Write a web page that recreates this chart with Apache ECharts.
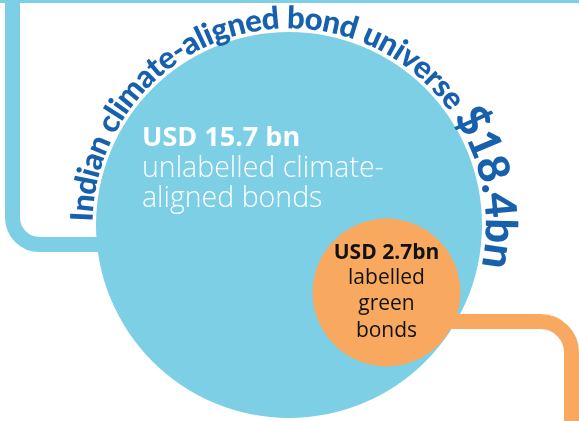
<!DOCTYPE html>
<html>
<head>
<meta charset="utf-8">
<script src="https://cdn.jsdelivr.net/npm/echarts@6/dist/echarts.min.js"></script>
<style>
  html, body { margin: 0; padding: 0; background: #fff; }
  #bubble { width: 579px; height: 421px; }
</style>
</head>
<body>
<div id="bubble"></div>
<script>
// 数据
const categories = ['unlabelled climate-aligned bonds', 'labelled green bonds']
const valuesBn = [15.7, 2.7]
const totalBn = valuesBn[0] + valuesBn[1]
const arcTitle = 'Indian climate-aligned bond universe'

// 颜色
const BLUE = '#7ccfe4'
const ORANGE = '#f8a95f'
const NAVY = '#1660ad'
const FONT = '"Open Sans", "DejaVu Sans", sans-serif'
const ARC_FONT = 'Lato, "Open Sans", sans-serif'

// 版式
const BIG = { cx: 289, cy: 225 }
const SMALL = { cx: 386.5, cy: 292.5 }
const R_TOTAL = 193
function radiusOf (v) {
  return R_TOTAL * Math.sqrt(v / totalBn)
}

// 沿圆弧排布文字（逐字旋转）
const TRACK = 0.96
const measureCtx = document.createElement('canvas').getContext('2d')
function strWidth (s, size) {
  measureCtx.font = '900 ' + size + 'px ' + ARC_FONT
  return measureCtx.measureText(s).width
}
function arcChars (text, size, startDeg, rBase, out) {
  let theta = startDeg * Math.PI / 180
  for (const ch of text) {
    const w = strWidth(ch, size) * TRACK
    const mid = theta - (w / 2) / rBase
    const rc = rBase + size * 0.34
    if (ch !== ' ') {
      out.push({
        type: 'text',
        z: 20,
        x: BIG.cx + rc * Math.cos(mid),
        y: BIG.cy - rc * Math.sin(mid),
        rotation: mid - Math.PI / 2,
        style: {
          text: ch,
          fill: NAVY,
          font: '900 ' + size + 'px ' + ARC_FONT,
          align: 'center',
          verticalAlign: 'middle'
        }
      })
    }
    theta -= w / rBase
  }
  return theta * 180 / Math.PI
}

const R_BASE = 196
const START1 = 179
const END1 = 35.5
const END2 = -12
const fs1 = 100 * ((START1 - END1) * Math.PI / 180 * R_BASE) / (strWidth(arcTitle, 100) * TRACK)
const arcItems = []
let th = arcChars(arcTitle + ' ', fs1, START1, R_BASE, arcItems)
const totalLabel = '$' + totalBn.toFixed(1) + 'bn'
const fs2 = 100 * ((th - END2) * Math.PI / 180 * R_BASE) / (strWidth(totalLabel, 100) * TRACK)
arcChars(totalLabel, fs2, th, R_BASE, arcItems)

function circleSeries (value, center, color, z) {
  return {
    type: 'custom',
    coordinateSystem: 'none',
    z: z,
    silent: true,
    data: [[value]],
    renderItem: function (params, api) {
      return {
        type: 'circle',
        shape: { cx: center.cx, cy: center.cy, r: radiusOf(api.value(0)) },
        style: { fill: color }
      }
    }
  }
}

function label (text, x, baseline, size, weight, color, align) {
  return {
    type: 'text',
    z: 20,
    x: x,
    y: baseline - size * 0.36,
    style: {
      text: text,
      fill: color,
      font: weight + ' ' + size + 'px ' + FONT,
      align: align,
      verticalAlign: 'middle'
    }
  }
}

function seg (x1, y1, x2, y2, color, z) {
  return {
    type: 'line',
    z: z,
    shape: { x1: x1, y1: y1, x2: x2, y2: y2 },
    style: { stroke: color, lineWidth: 15 }
  }
}
function corner (cx, cy, r, a0, a1, color, z) {
  return {
    type: 'arc',
    z: z,
    shape: { cx: cx, cy: cy, r: r, startAngle: a0, endAngle: a1, clockwise: true },
    style: { stroke: color, lineWidth: 15, fill: null }
  }
}

const chart = echarts.init(document.getElementById('bubble'), null, { renderer: 'canvas' })
const option = {
  animation: false,
  backgroundColor: '#fff',
  graphic: [
    // 蓝色框线
    seg(-20, -4.5, 620, -4.5, BLUE, 0),
    seg(12.5, -20, 12.5, 218, BLUE, 0),
    corner(39.5, 217.5, 27, Math.PI / 2, Math.PI, BLUE, 0),
    seg(39, 244.5, 160, 244.5, BLUE, 0),
    // 橙色连接线
    seg(420, 321.5, 541, 321.5, ORANGE, 3),
    corner(540.5, 352.5, 31, -Math.PI / 2, 0, ORANGE, 3),
    seg(571.5, 352, 571.5, 450, ORANGE, 3),
    label('USD ' + valuesBn[0] + ' bn', 142, 148, 27, 'bold', '#fff', 'left'),
    label('unlabelled climate-', 142, 179, 28.5, '300', '#fff', 'left'),
    label('aligned bonds', 142, 209, 28.5, '300', '#fff', 'left'),
    label('USD ' + valuesBn[1] + 'bn', SMALL.cx, 261, 21, 'bold', '#111', 'center'),
    label('labelled', SMALL.cx, 286, 21, 'normal', '#111', 'center'),
    label('green', SMALL.cx, 312, 21, 'normal', '#111', 'center'),
    label('bonds', SMALL.cx, 339, 21, 'normal', '#111', 'center')
  ].concat(arcItems),
  series: [
    circleSeries(totalBn, BIG, BLUE, 2),
    circleSeries(valuesBn[1], SMALL, ORANGE, 4)
  ]
}
chart.setOption(option)
</script>
</body>
</html>
